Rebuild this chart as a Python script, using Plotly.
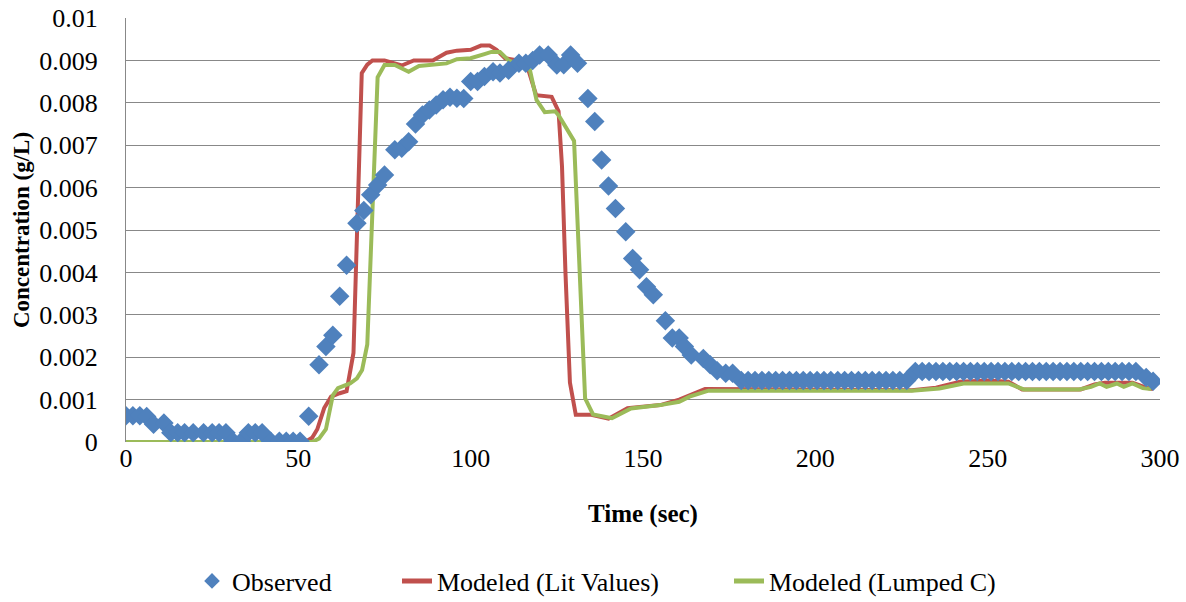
import plotly.graph_objects as go

# ---------------- data ----------------
obs_time = [0, 2, 4, 6, 8, 11, 13, 15, 17, 19.5, 22.5, 25, 27, 29, 31, 33.5, 35.5, 37.5, 39.5,
            42, 44.5, 46.5, 48.5, 50.5, 53, 56, 58, 60, 62, 64, 67, 69, 71, 73, 75, 78, 80, 82,
            84, 86, 88, 90, 92, 94, 96, 98, 100, 102, 104, 106.5, 108.5, 111, 114, 116, 118, 120,
            122.5, 125, 127, 129, 131, 134, 136, 138, 140, 142, 145, 147, 149, 151, 153, 156.5,
            158.5, 160.5, 162, 164, 167.5, 169.5, 171.5, 174, 176,
            178.5, 180.5, 182.5, 184.5, 186.5, 188.5, 190.5, 192.5, 194.5, 196.5, 198.5, 200.5,
            202.5, 204.5, 206.5, 208.5, 210.5, 212.5, 214.5, 216.5, 218.5, 220.5, 222.5, 224.5,
            226.5,
            229, 231, 233, 235, 237, 239, 241, 243, 245, 247, 249, 251, 253, 255, 257, 259, 261,
            263, 265, 267, 269, 271, 273, 275, 277, 279, 281, 283, 285, 287, 289, 291, 293,
            296, 298]
obs_conc = [0.00062, 0.00062, 0.00062, 0.00060, 0.00042, 0.00045, 0.00022, 0.00022, 0.00022,
            0.00022, 0.00022, 0.00022, 0.00022, 0.00022, 0.00002, 0.00002, 0.00022, 0.00022,
            0.00022, 0.00002, 0.00002, 0.00002, 0.00002, 0.00002, 0.00061, 0.00182, 0.00225,
            0.00252, 0.00344, 0.00417, 0.00516, 0.00546, 0.00583, 0.00606, 0.00630, 0.00689,
            0.00693, 0.00708, 0.00750, 0.00771, 0.00783, 0.00795, 0.00807, 0.00813, 0.00811,
            0.00810, 0.00850, 0.00850, 0.00862, 0.00873, 0.00870, 0.00877, 0.00893, 0.00893,
            0.00900, 0.00913, 0.00913, 0.00889, 0.00890, 0.00913, 0.00893, 0.00810, 0.00756,
            0.00665, 0.00604, 0.00551, 0.00496, 0.00433, 0.00406, 0.00366, 0.00347, 0.00286,
            0.00245, 0.00245, 0.00225, 0.00205, 0.00197, 0.00182, 0.00168, 0.00162, 0.00162,
            0.00145, 0.00145, 0.00145, 0.00145, 0.00145, 0.00145, 0.00145, 0.00145, 0.00145,
            0.00145, 0.00145, 0.00145, 0.00145, 0.00145, 0.00145, 0.00145, 0.00145, 0.00145,
            0.00145, 0.00145, 0.00145, 0.00145, 0.00145, 0.00145, 0.00145,
            0.00166, 0.00166, 0.00166, 0.00166, 0.00166, 0.00166, 0.00166, 0.00166, 0.00166,
            0.00166, 0.00166, 0.00166, 0.00166, 0.00166, 0.00166, 0.00166, 0.00166, 0.00166,
            0.00166, 0.00166, 0.00166, 0.00166, 0.00166, 0.00166, 0.00166, 0.00166, 0.00166,
            0.00166, 0.00166, 0.00166, 0.00166, 0.00166, 0.00166,
            0.00152, 0.00143]

lit_time = [0, 52, 54, 55.5, 57.5, 59.5, 62, 64, 66, 68.4, 70, 71.5, 75, 77.5, 80, 83.5, 89,
            93, 96, 100, 103, 105.5, 107.5, 110, 113, 116, 119, 123.5, 125.5, 126.5, 127.5,
            128.8, 130.5, 135, 140, 145.5, 155, 160.5, 168, 228, 235, 242, 250, 256, 260, 277,
            281, 284, 292, 296, 298]
lit_conc = [0, 0, 0.0001, 0.0003, 0.0008, 0.00107, 0.00115, 0.0012, 0.0021, 0.0087, 0.0089,
            0.0090, 0.0090, 0.00895, 0.00888, 0.0090, 0.0090, 0.00918, 0.00923, 0.00925,
            0.00935, 0.00935, 0.00925, 0.00905, 0.0090, 0.00897, 0.00818, 0.00814, 0.0078,
            0.0065, 0.0040, 0.0014, 0.00064, 0.00064, 0.00055, 0.0008, 0.00087, 0.0010,
            0.00125, 0.00122, 0.00128, 0.00142, 0.00145, 0.00142, 0.00124, 0.00124, 0.00136,
            0.0014, 0.0014, 0.00128, 0.00125]

lump_time = [0, 54, 56, 58, 60, 61.5, 65, 67, 68.5, 70, 73, 75, 78, 82, 85, 93, 96, 100, 104,
             106, 108.5, 111, 114, 117.2, 119.1, 121.5, 124.5, 125.5, 130, 133.2, 135.5, 141,
             146.5, 155, 160.5, 163.5, 169, 228, 236, 241, 243, 256, 260.5, 276.5, 280, 282.5,
             284.5, 287.5, 289.5, 292, 295, 297.5]
lump_conc = [0, 0, 0.00008, 0.0003, 0.0011, 0.00127, 0.00138, 0.0015, 0.0017, 0.0023, 0.0086,
             0.00889, 0.00889, 0.00873, 0.00887, 0.00893, 0.00903, 0.00905, 0.00915, 0.0092,
             0.0092, 0.0090, 0.0089, 0.00877, 0.00807, 0.00778, 0.0078, 0.00771, 0.0071,
             0.00103, 0.00065, 0.00056, 0.00079, 0.00087, 0.00095, 0.00107, 0.00121, 0.00121,
             0.00126, 0.00134, 0.00138, 0.00138, 0.00124, 0.00124, 0.0013, 0.00138, 0.0013,
             0.00138, 0.0013, 0.00138, 0.00127, 0.00125]

y_ticks = [0, 0.001, 0.002, 0.003, 0.004, 0.005, 0.006, 0.007, 0.008, 0.009, 0.01]
y_tick_labels = ["0", "0.001", "0.002", "0.003", "0.004", "0.005", "0.006", "0.007", "0.008",
                 "0.009", "0.01"]
x_ticks = [0, 50, 100, 150, 200, 250, 300]

# ---------------- figure ----------------
FONT = "Liberation Serif, Times New Roman, serif"
W, H = 1186, 602

fig = go.Figure()
fig.add_trace(go.Scatter(x=lit_time, y=lit_conc, mode="lines", name="Modeled (Lit Values)",
                         line=dict(color="#C0504D", width=4), legend="legend2"))
fig.add_trace(go.Scatter(x=lump_time, y=lump_conc, mode="lines", name="Modeled (Lumped C)",
                         line=dict(color="#9BBB59", width=4), legend="legend3"))
fig.add_trace(go.Scatter(x=obs_time, y=obs_conc, mode="markers", name="Observed",
                         marker=dict(symbol="diamond", size=15, color="#4F81BD",
                                     line=dict(width=0)), legend="legend"))

def leg(x_px):
    return dict(orientation="h", xref="container", x=x_px / W, xanchor="left",
                yref="container", y=(H - 581) / H, yanchor="middle",
                font=dict(size=26), itemsizing="constant", bgcolor="rgba(0,0,0,0)",
                borderwidth=0)

fig.update_layout(
    width=W, height=H,
    margin=dict(l=126, r=26, t=18, b=160),
    paper_bgcolor="white", plot_bgcolor="white",
    font=dict(family=FONT, size=26, color="black"),
    showlegend=True,
    legend=leg(192),
    legend2=leg(397),
    legend3=leg(729),
)
fig.update_xaxes(range=[0, 300], tickvals=x_ticks, showgrid=False, zeroline=False,
                 showline=False, ticks="", ticklabelstandoff=-2, automargin=False,
                 title=dict(text="<b>Time (sec)</b>", font=dict(size=25), standoff=32))
fig.update_yaxes(range=[0, 0.01], tickvals=y_ticks, ticktext=y_tick_labels, showgrid=True,
                 gridcolor="#888888", gridwidth=1, zeroline=False, showline=True,
                 linecolor="#888888", linewidth=1, ticks="outside", ticklen=22,
                 tickcolor="rgba(0,0,0,0)", automargin=False,
                 title=dict(text="<b>Concentration (g/L)</b>", font=dict(size=23), standoff=3))

fig.write_html("out.html")
